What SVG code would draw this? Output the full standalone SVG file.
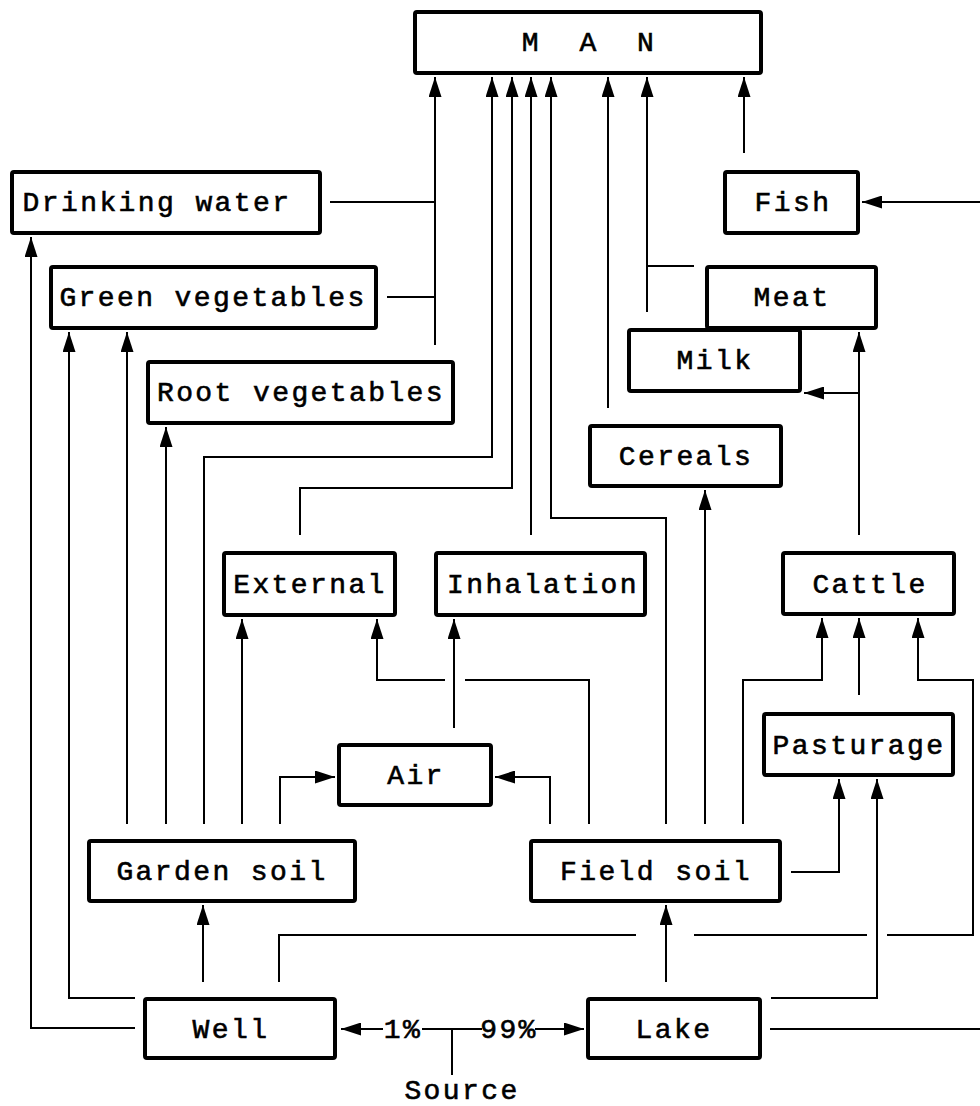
<svg xmlns="http://www.w3.org/2000/svg" width="980" height="1106" viewBox="0 0 980 1106">
<style>
.box{fill:#fff;stroke:#000;stroke-width:4}
.t{font-family:"Liberation Mono","Courier New",monospace;font-size:28px;letter-spacing:2.4px;fill:#000;stroke:#000;stroke-width:0.6;text-anchor:middle}
.c{fill:none;stroke:#000;stroke-width:2}
.a{marker-end:url(#ah)}
</style>
<defs>
<marker id="ah" markerWidth="20" markerHeight="13" refX="20" refY="6.5" orient="auto" markerUnits="userSpaceOnUse">
<path d="M0,0 L20,6.5 L0,13 z" fill="#000"/>
</marker>
</defs>
<rect width="980" height="1106" fill="#fff"/>
<g id="connectors">
<path class="c" d="M330,202 H435"/>
<path class="c" d="M387,297 H435"/>
<path class="c a" d="M435,345 V77"/>
<path class="c a" d="M204,824 V457 H492 V77"/>
<path class="c a" d="M300,535 V488 H512 V77"/>
<path class="c a" d="M531,535 V77"/>
<path class="c a" d="M666,824 V518 H551 V77"/>
<path class="c a" d="M608,408 V77"/>
<path class="c a" d="M647,312 V77"/>
<path class="c" d="M694,266 H647"/>
<path class="c a" d="M744,153 V77"/>
<path class="c a" d="M980,202 H862"/>
<path class="c a" d="M859,535 V332"/>
<path class="c a" d="M859,393 H804"/>
<path class="c a" d="M859,695 V618"/>
<path class="c a" d="M127,824 V332"/>
<path class="c a" d="M166,824 V427"/>
<path class="c a" d="M242,824 V619"/>
<path class="c a" d="M280,824 V777 H335"/>
<path class="c a" d="M550,824 V777 H495"/>
<path class="c" d="M589,824 V680 H465"/>
<path class="c a" d="M445,680 H377 V619"/>
<path class="c a" d="M454,728 V619"/>
<path class="c a" d="M705,824 V490"/>
<path class="c a" d="M743,824 V680 H822 V618"/>
<path class="c" d="M279,982 V935 H636"/>
<path class="c" d="M694,935 H867"/>
<path class="c a" d="M887,935 H973 V680 H918 V618"/>
<path class="c a" d="M666,982 V905"/>
<path class="c a" d="M203,982 V905"/>
<path class="c a" d="M135,998 H69 V332"/>
<path class="c a" d="M135,1028 H31 V237"/>
<path class="c a" d="M771,998 H877 V779"/>
<path class="c a" d="M791,872 H839 V779"/>
<path class="c" d="M770,1029 H980"/>
<path class="c a" d="M383,1029 H341"/>
<path class="c" d="M422,1029 H482"/>
<path class="c" d="M452,1029 V1075"/>
<path class="c a" d="M535,1029 H584"/>
</g>
<g id="man"><rect class="box" x="415" y="12" width="346" height="61" rx="2"/><text class="t" x="589" y="51" xml:space="preserve">M  A  N</text></g>
<g id="drinking-water"><rect class="box" x="12" y="172" width="308" height="61" rx="2"/><text class="t" x="157" y="211">Drinking water</text></g>
<g id="fish"><rect class="box" x="725" y="172" width="133" height="61" rx="2"/><text class="t" x="793" y="211">Fish</text></g>
<g id="green-vegetables"><rect class="box" x="51" y="267" width="325" height="61" rx="2"/><text class="t" x="213" y="306">Green vegetables</text></g>
<g id="root-vegetables"><rect class="box" x="148" y="362" width="305" height="61" rx="2"/><text class="t" x="301" y="401">Root vegetables</text></g>
<g id="meat"><rect class="box" x="707" y="267" width="169" height="61" rx="2"/><text class="t" x="792" y="306">Meat</text></g>
<g id="milk"><rect class="box" x="629" y="330" width="171" height="61" rx="2"/><text class="t" x="715" y="369">Milk</text></g>
<g id="cereals"><rect class="box" x="590" y="426" width="191" height="60" rx="2"/><text class="t" x="686" y="465">Cereals</text></g>
<g id="external"><rect class="box" x="224" y="553" width="171" height="62" rx="2"/><text class="t" x="310" y="593">External</text></g>
<g id="inhalation"><rect class="box" x="436" y="553" width="209" height="62" rx="2"/><text class="t" x="543" y="593">Inhalation</text></g>
<g id="cattle"><rect class="box" x="783" y="553" width="171" height="61" rx="2"/><text class="t" x="870" y="593">Cattle</text></g>
<g id="pasturage"><rect class="box" x="764" y="714" width="189" height="61" rx="2"/><text class="t" x="859" y="754">Pasturage</text></g>
<g id="air"><rect class="box" x="339" y="745" width="152" height="60" rx="2"/><text class="t" x="416" y="784">Air</text></g>
<g id="garden-soil"><rect class="box" x="89" y="841" width="266" height="60" rx="2"/><text class="t" x="222" y="880">Garden soil</text></g>
<g id="field-soil"><rect class="box" x="531" y="841" width="249" height="60" rx="2"/><text class="t" x="656" y="880">Field soil</text></g>
<g id="well"><rect class="box" x="145" y="999" width="190" height="59" rx="2"/><text class="t" x="231" y="1038">Well</text></g>
<g id="lake"><rect class="box" x="588" y="999" width="172" height="59" rx="2"/><text class="t" x="674" y="1038">Lake</text></g>
<g id="source-labels">
<text class="t" x="403" y="1038">1%</text>
<text class="t" x="509" y="1038">99%</text>
<text class="t" x="462" y="1099">Source</text>
</g>
</svg>
